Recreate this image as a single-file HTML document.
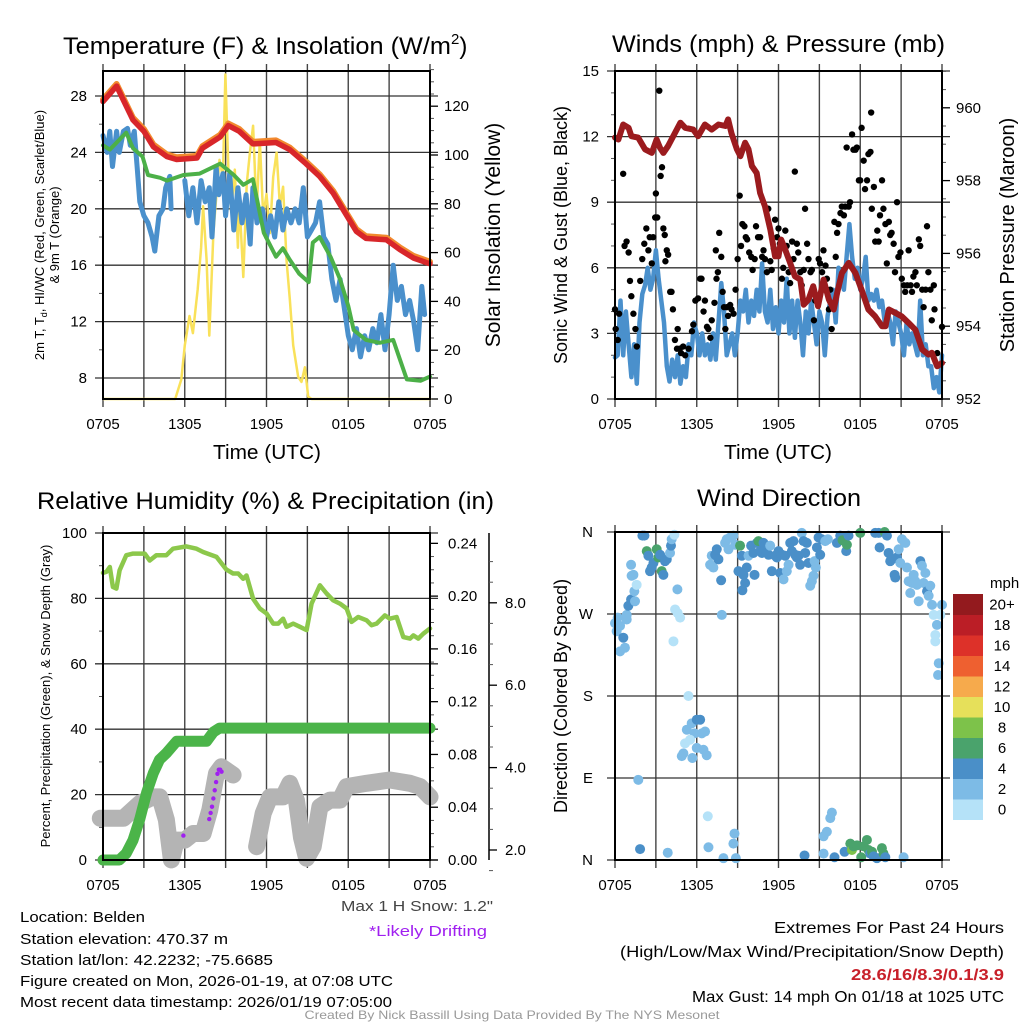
<!DOCTYPE html>
<html><head><meta charset="utf-8">
<style>
html,body{margin:0;padding:0;background:#fff;}
svg{display:block;font-family:"Liberation Sans",sans-serif;}
</style></head>
<body>
<svg id="fig" width="1024" height="1024" viewBox="0 0 1024 1024" xmlns="http://www.w3.org/2000/svg">
<rect width="1024" height="1024" fill="#fff"/>
<g id="layer"></g>
<!-- titles -->
<text x="63" y="54" font-size="24"><tspan textLength="388" lengthAdjust="spacingAndGlyphs">Temperature (F) &amp; Insolation (W/m</tspan><tspan font-size="15" dy="-10">2</tspan><tspan dy="10">)</tspan></text>
<text x="612" y="52" font-size="24" textLength="333" lengthAdjust="spacingAndGlyphs">Winds (mph) &amp; Pressure (mb)</text>
<text x="37" y="509" font-size="24" textLength="457" lengthAdjust="spacingAndGlyphs">Relative Humidity (%) &amp; Precipitation (in)</text>
<text x="697" y="506" font-size="24" textLength="164" lengthAdjust="spacingAndGlyphs">Wind Direction</text>
<!-- axis titles -->
<text x="267" y="459" font-size="20" text-anchor="middle" textLength="108" lengthAdjust="spacingAndGlyphs">Time (UTC)</text>
<text x="778" y="459" font-size="20" text-anchor="middle" textLength="108" lengthAdjust="spacingAndGlyphs">Time (UTC)</text>
<text transform="translate(44,235) rotate(-90)" font-size="13" text-anchor="middle">2m T, T<tspan font-size="9" dy="3">d</tspan><tspan dy="-3">, HI/WC (Red, Green, Scarlet/Blue)</tspan></text>
<text transform="translate(59,235) rotate(-90)" font-size="13" text-anchor="middle">&amp; 9m T (Orange)</text>
<text transform="translate(500,235) rotate(-90)" font-size="21" text-anchor="middle">Solar Insolation (Yellow)</text>
<text transform="translate(567,235) rotate(-90)" font-size="18" text-anchor="middle">Sonic Wind &amp; Gust (Blue, Black)</text>
<text transform="translate(1014,235) rotate(-90)" font-size="20" text-anchor="middle">Station Pressure (Maroon)</text>
<text transform="translate(50,696) rotate(-90)" font-size="13" text-anchor="middle">Percent, Precipitation (Green), &amp; Snow Depth (Gray)</text>
<text transform="translate(567,696) rotate(-90)" font-size="18" text-anchor="middle">Direction (Colored By Speed)</text>
<!-- footer texts -->
<text x="20" y="922" font-size="15" textLength="125" lengthAdjust="spacingAndGlyphs">Location: Belden</text>
<text x="20" y="944" font-size="15" textLength="208" lengthAdjust="spacingAndGlyphs">Station elevation: 470.37 m</text>
<text x="20" y="965" font-size="15" textLength="253" lengthAdjust="spacingAndGlyphs">Station lat/lon: 42.2232; -75.6685</text>
<text x="20" y="986" font-size="15" textLength="373" lengthAdjust="spacingAndGlyphs">Figure created on Mon, 2026-01-19, at 07:08 UTC</text>
<text x="20" y="1007" font-size="15" textLength="372" lengthAdjust="spacingAndGlyphs">Most recent data timestamp: 2026/01/19 07:05:00</text>
<text x="493" y="911" font-size="15" fill="#444" text-anchor="end" textLength="152" lengthAdjust="spacingAndGlyphs">Max 1 H Snow: 1.2"</text>
<text x="428" y="936" font-size="15" fill="#a020f0" text-anchor="middle" textLength="118" lengthAdjust="spacingAndGlyphs">*Likely Drifting</text>
<text x="1004" y="933" font-size="16" text-anchor="end" textLength="230" lengthAdjust="spacingAndGlyphs">Extremes For Past 24 Hours</text>
<text x="1004" y="957" font-size="16" text-anchor="end" textLength="384" lengthAdjust="spacingAndGlyphs">(High/Low/Max Wind/Precipitation/Snow Depth)</text>
<text x="1004" y="980" font-size="16" font-weight="bold" fill="#c8202a" text-anchor="end" textLength="153" lengthAdjust="spacingAndGlyphs">28.6/16/8.3/0.1/3.9</text>
<text x="1004" y="1002" font-size="16" text-anchor="end" textLength="312" lengthAdjust="spacingAndGlyphs">Max Gust: 14 mph On 01/18 at 1025 UTC</text>
<text x="512" y="1019" font-size="12" fill="#999" text-anchor="middle" textLength="415" lengthAdjust="spacingAndGlyphs">Created By Nick Bassill Using Data Provided By The NYS Mesonet</text>
</svg>
<script>
// ===== DATA =====
const timeTickLabels = ["0705","1305","1905","0105","0705"];
const tempTicks = [8,12,16,20,24,28];
const insolTicks = [0,20,40,60,80,100,120];
const windTicks = [0,3,6,9,12,15];
const presTicks = [952,954,956,958,960];
const rhTicks = [0,20,40,60,80,100];
const precipTicks = ["0.00","0.04","0.08","0.12","0.16","0.20","0.24"];
const snowTicks = ["2.0","4.0","6.0","8.0"];
const dirTickLabels = ["N","E","S","W","N"];
const speedLabels = ["0","2","4","6","8","10","12","14","16","18","20+"];
const speedColors = ["#b5e2f8","#7dbbe6","#4a8fc8","#4aa36c","#7dc24a","#e6e05a","#f6aa4c","#ee6030","#dd3129","#bb1e26","#931a1e"];

const tempHours = [0,1,1.5,2.2,3,3.7,4.7,5.4,6.9,7.3,8.6,9.2,10,11,12.7,13.7,14.9,15.9,16.9,17.9,18.6,19.3,20.8,21.8,22.8,24];
const tempValues = [27.6,28.7,27.7,26.3,25.5,24.4,23.7,23.5,23.6,24.3,25.1,25.9,25.5,24.6,24.7,24.2,23.2,22.3,21.1,19.5,18.4,17.9,17.8,17.1,16.5,16.1];
const dewHours = [0,0.5,1.7,2.2,2.9,3.3,4.2,4.7,5.9,7.1,8.6,9.6,10.3,11,11.8,12.7,13.2,13.7,14.4,15.1,15.4,15.9,16.7,17.4,18,18.4,19.3,20.3,21.3,21.8,22.3,23.3,24];
const dewValues = [24.5,24.2,25.4,24.3,23.7,22.4,22.2,22.0,22.4,22.5,23.2,22.4,21.7,22.1,18.3,16.6,17.2,16.4,15.4,14.8,17.6,18.0,16.6,15.0,13.1,11.4,10.7,10.5,10.7,9.3,7.9,7.8,8.1];
const chillHours = [0,0.3,0.5,0.7,1,1.2,1.5,1.8,2,2.3,2.5,2.7,3,3.3,3.6,3.8,4.1,4.4,4.6,4.9,5.0,5.8,6,6.3,6.6,6.9,7.2,7.5,7.8,8,8.3,8.5,8.8,9,9.3,9.6,9.9,10.2,10.5,10.8,11,11.3,11.7,12,12.3,12.6,12.9,13.2,13.5,13.8,14.1,14.4,14.7,15,15.3,15.6,15.9,16.2,16.5,16.8,17.1,17.4,17.7,18,18.3,18.6,18.9,19.2,19.5,19.8,20.1,20.4,20.7,21,21.3,21.6,21.9,22.2,22.5,22.8,23.1,23.4,23.6];
const chillValues = [25.2,24.0,25.5,23.0,25.5,24.0,25.5,25.7,24.5,25.5,23.0,20.5,19.5,19.0,18.0,17.0,19.5,20.0,21.5,22.3,20.0,null,22.0,19.5,21.5,19.0,22.0,20.5,21.5,18.0,23.0,21.0,22.5,19.5,22.5,18.5,21.5,19.0,21.0,17.5,21.5,19.0,20.0,18.0,19.5,18.0,20.5,18.5,20.0,19.0,20.0,19.0,21.5,18.0,18.5,19.0,20.5,18.0,17.5,15.0,13.5,15.0,13.0,11.0,10.0,11.5,9.5,11.0,10.0,11.5,10.5,12.5,10.0,12.5,16.0,13.5,14.5,12.5,13.5,12.0,10.0,14.5,12.5,13.0];
const insolHours = [0,5.3,5.75,6.0,6.35,6.6,6.95,7.2,7.35,7.6,7.8,8.1,8.3,8.55,8.8,8.98,9.2,9.4,9.67,9.9,10.0,10.3,10.55,10.78,11.02,11.27,11.51,11.76,12.0,12.25,12.49,12.74,12.98,13.22,13.47,13.71,13.96,14.33,14.57,14.82,15.06,15.31,24];
const insolValues = [0,0,8,22,34,27,45,62,79,57,26,68,82,98,91,133,95,77,94,62,82,50,88,101,112,76,106,75,84,68,91,101,79,87,57,41,22,9,7,13,1,0,0];

const windHours = [];
const windValues = [1.9,2.0,4.5,2.0,4.0,2.5,1.0,2.5,0.7,3.5,4.8,5.2,6.0,5.0,5.5,6.8,5.5,4.5,3.5,1.5,0.8,1.8,1.0,2.0,0.7,1.5,1.0,2.5,2.0,3.5,3.0,2.0,3.0,2.0,2.5,1.8,3.0,1.8,3.5,5.3,4.0,2.0,2.5,3.0,2.0,3.0,4.5,4.0,5.0,3.5,4.5,3.8,5.0,4.0,6.2,4.0,3.5,5.0,3.2,4.2,3.0,4.5,3.5,5.5,3.0,4.5,2.8,4.5,3.5,2.0,4.0,3.0,4.5,3.5,2.5,4.0,3.5,2.0,3.8,4.5,5.0,3.5,6.0,5.5,5.0,6.5,8.0,6.5,5.5,6.0,5.0,5.5,6.5,4.5,4.8,4.5,5.0,4.2,4.5,3.5,4.0,3.5,2.5,4.0,3.5,3.0,2.0,3.5,2.5,3.0,2.5,2.0,4.5,2.0,2.5,1.5,1.5,0.5,1.0,0.3,2.0];
for (let i = 0; i < windValues.length; i++) windHours.push(i * 0.2);
const gustHours = [0,0.05,0.2,0.3,0.6,0.7,0.85,1.0,1.1,1.2,1.35,1.5,1.6,1.85,2.0,2.15,2.3,2.45,2.55,2.7,2.8,2.95,3.0,3.1,3.25,3.35,3.45,3.55,3.65,3.7,3.8,3.9,4.05,4.15,4.25,4.4,4.55,4.6,4.75,4.85,5.0,5.15,5.4,5.65,5.75,5.9,6.1,6.25,6.35,6.5,6.6,6.75,6.85,7.0,7.1,7.3,7.4,7.45,7.55,7.65,7.8,7.9,8.0,8.1,8.2,8.3,8.45,8.55,8.7,8.85,9.0,9.15,9.25,9.35,9.5,9.6,9.7,9.85,10.0,10.1,10.25,10.35,10.5,10.65,10.8,10.9,11.0,11.15,11.25,11.4,11.5,11.65,11.75,11.9,12.0,12.1,12.25,12.35,12.5,12.6,12.75,12.85,13.0,13.1,13.2,13.35,13.45,13.6,13.7,13.85,13.95,14.1,14.2,14.35,14.45,14.6,14.7,14.95,15.05,15.2,15.3,15.45,15.55,15.7,15.8,15.9,16.1,16.2,16.3,16.4,16.55,16.65,16.8,16.9,17.0,17.15,17.25,17.4,17.5,17.65,17.75,17.9,18.0,18.1,18.25,18.35,18.5,18.6,18.75,18.8,18.85,19.0,19.1,19.25,19.35,19.45,19.6,19.7,19.85,19.95,20.1,20.2,20.3,20.45,20.55,20.7,20.8,20.95,21.05,21.2,21.3,21.45,21.55,21.7,21.8,21.9,22.05,22.15,22.3,22.4,22.55,22.65,22.8,22.9,23.0,23.15,23.25,23.4,23.45,23.65,24.0];
const gustValues = [4.1,3.2,2.7,3.9,10.3,7.0,7.2,6.7,5.4,4.7,3.9,3.2,2.4,5.4,6.4,7.1,7.8,6.8,7.4,6.2,7.4,8.3,9.4,8.3,14.1,10.2,10.6,7.8,7.5,6.3,6.8,6.6,4.9,4.9,4.1,2.7,2.3,3.2,2.3,2.1,2.4,2.0,2.3,3.1,3.4,4.5,4.6,5.5,5.5,4.0,4.5,3.3,3.2,2.8,3.6,4.4,6.8,5.5,5.8,7.6,6.5,4.9,4.2,3.2,4.2,3.8,4.3,4.1,3.9,5.0,6.4,9.3,7.0,8.0,7.9,7.4,7.3,6.7,6.5,5.9,6.4,7.9,7.4,7.4,6.5,6.8,6.4,5.8,8.7,6.3,5.9,6.9,8.2,7.4,7.8,7.1,5.5,6.0,7.7,7.0,5.8,5.3,7.2,6.4,10.4,7.1,6.7,5.8,5.2,5.9,8.7,7.1,6.4,5.8,5.9,3.6,4.5,6.4,6.2,5.8,6.8,6.1,5.5,4.1,5.0,3.2,8.1,6.5,7.6,8.0,8.5,8.8,8.4,8.8,11.5,8.8,9.0,12.1,11.4,11.4,11.5,10.0,10.0,12.4,10.9,9.6,10.0,11.2,11.3,13.1,8.7,9.7,7.2,7.7,7.2,8.4,10.0,8.7,8.0,6.2,8.1,7.5,7.6,7.1,5.8,9.0,6.5,6.7,5.5,5.2,4.9,5.2,6.8,5.2,4.9,5.6,5.8,5.2,7.3,7.0,5.0,4.2,5.0,7.9,5.8,5.0,3.6,5.2,4.1,2.1,3.3];
const presHours = [0,0.25,0.6,1.0,1.2,1.7,2.2,2.7,3.05,3.3,3.55,3.9,4.4,4.8,5.15,5.75,6.1,6.6,7.1,7.6,8.1,8.3,8.55,8.95,9.2,9.55,9.8,10.05,10.4,10.65,11.0,11.4,11.75,12.0,12.2,12.5,12.85,13.2,13.6,13.85,14.2,14.55,14.9,15.3,15.7,16.05,16.3,16.65,17.15,17.65,18.1,18.6,19.1,19.6,19.85,20.1,20.55,21.05,21.55,22.05,22.55,23.0,23.25,23.65,24.0];
const presValues = [959.18,959.13,959.54,959.45,959.22,959.18,958.86,958.76,959.13,958.9,958.76,958.95,959.31,959.59,959.45,959.4,959.22,959.54,959.4,959.54,959.5,959.68,959.3,958.86,958.67,959.04,958.86,958.4,958.21,957.66,957.3,956.66,955.92,955.92,956.38,956.1,955.74,955.37,955.28,954.59,954.73,955.1,954.55,955.28,954.73,954.46,954.91,955.46,955.74,955.46,955.0,954.46,954.27,954.0,954.0,954.46,954.37,954.27,954.09,953.9,953.36,953.22,953.27,952.9,952.99];

const rhHours = [0,0.25,0.5,0.73,0.98,1.22,1.71,2.2,2.69,3.06,3.43,3.92,4.65,5.14,6.12,6.86,7.35,8.33,9.06,9.55,9.92,10.29,10.53,11.02,11.51,12.0,12.49,12.86,13.22,13.47,13.96,14.45,14.94,15.31,15.92,16.41,16.9,17.39,17.88,18.24,18.73,19.35,19.71,20.08,20.69,21.06,21.55,22.04,22.53,22.78,23.14,23.51,24.0];
const rhValues = [87.8,88.1,89.6,83.5,83.0,88.6,93.2,93.7,93.7,93.7,91.6,93.2,93.2,95.2,95.9,95.2,94.2,92.7,88.8,87.6,87.6,86.0,87.0,79.9,76.9,75.4,72.3,72.3,73.8,71.3,72.3,71.3,70.3,78.4,84.0,81.5,79.4,78.4,76.9,72.8,74.3,73.3,71.8,72.3,74.8,73.8,74.3,68.2,67.7,68.7,67.7,69.2,70.8];
const precipHours = [0,1.2,1.7,2.2,2.7,3.2,3.7,4.15,4.65,5.4,7.6,8.1,8.55,24];
const precipValues = [0,0,0.005,0.015,0.031,0.051,0.066,0.076,0.081,0.090,0.090,0.097,0.100,0.100];
const snowHours = [-0.2,1.5,2.7,3.67,4.16,4.65,5.02,5.39,6.0,6.61,7.35,7.84,8.33,8.69,9.55,null,11.27,11.76,12.25,13.22,13.71,14.2,14.57,14.94,15.43,15.92,16.65,17.39,17.88,19.35,21.06,22.53,23.27,24.0];
const snowValues = [2.77,2.77,3.13,3.29,3.29,2.73,1.76,2.24,2.24,2.4,2.4,2.97,3.86,4.02,3.82,null,2.08,2.89,3.29,3.29,3.62,3.2,2.3,1.8,2.08,3.05,3.21,3.21,3.54,3.62,3.7,3.62,3.54,3.29];
const driftHours = [5.9,7.8,7.9,8.0,8.1,8.2,8.3,8.4,8.5,8.6,8.7];
const driftValues = [2.35,2.75,2.9,3.05,3.25,3.45,3.65,3.85,3.95,3.95,3.9];

const dirHours = [0,0.12,0.2,0.37,0.61,0.37,0.73,0.86,0.86,0.98,1.18,1.47,1.42,1.59,1.22,1.35,1.18,1.71,1.84,2.01,2.16,2.33,2.45,2.57,2.69,2.82,3.06,3.18,3.31,3.43,3.55,3.67,3.8,3.87,4.04,4.11,4.16,4.36,4.29,4.41,4.6,4.78,4.58,5.39,5.27,5.63,6.0,6.25,5.83,6.37,6.61,5.14,5.51,5.02,4.9,5.68,6.0,6.49,6.73,6.81,6.86,6.98,7.22,7.1,7.35,7.47,7.59,7.79,7.84,7.96,8.08,8.2,8.33,8.45,8.69,8.82,8.77,8.69,8.87,9.18,9.06,9.31,9.43,9.55,9.67,9.35,9.8,9.99,10.16,10.24,10.41,10.53,10.65,10.78,10.9,11.02,11.14,11.27,11.39,11.51,11.76,11.88,12.0,12.12,12.25,12.37,12.49,12.61,12.74,12.86,12.98,13.1,13.22,13.35,13.47,13.59,13.71,13.91,13.84,13.96,14.08,14.2,14.33,14.45,14.57,14.65,14.74,14.82,14.94,15.06,15.18,15.31,15.31,15.43,15.55,15.62,15.8,15.92,16.11,16.29,16.53,16.7,16.85,16.97,17.02,17.14,17.27,17.39,17.51,17.76,18.0,18.07,18.25,18.49,18.61,18.73,18.86,18.98,19.1,19.22,19.35,19.42,19.59,19.71,19.79,19.96,19.84,20.08,20.2,20.33,20.52,20.57,20.69,20.82,20.94,21.06,21.18,21.31,21.43,21.55,21.67,21.8,21.92,22.04,22.16,22.29,22.41,22.53,22.65,22.78,22.9,23.02,23.14,23.27,23.39,23.51,23.63,23.51,23.76,23.71,24.0,23.88];
const dirDegrees = [260,251,266,257,244,229,233,264,269,279,286,284,295,302,312,313,324,88,12,356,356,339,334,317,321,326,341,332,335,317,313,328,330,8,337,345,352,357,240,275,271,266,297,180,143,150,154,154,139,139,141,128,132,117,114,112,123,121,115,48,14,324,321,334,335,341,330,307,269,2,348,352,341,354,356,346,29,18,2,345,317,334,313,304,321,296,334,345,337,313,348,350,339,337,348,345,337,335,345,317,334,332,339,315,335,308,334,317,324,348,339,350,335,332,334,324,359,5,350,337,348,326,301,306,312,328,321,343,354,335,352,26,7,350,31,352,46,52,3,348,356,351,9,339,346,356,18,11,15,16,359,3,15,22,11,7,9,4,359,2,359,343,13,7,360,356,3,337,328,330,313,310,332,341,326,352,3,348,321,306,293,304,313,306,302,284,328,323,304,315,295,290,301,280,269,247,258,240,216,203,280,269];
const dirSpeeds = [2,2,2,2,4,2,2,2,2,4,4,2,2,0,2,2,2,2,4,4,4,6,4,4,4,4,6,6,4,6,4,4,4,2,2,4,2,0,0,0,0,0,2,0,2,2,4,4,2,2,2,0,0,2,2,2,2,2,2,0,2,2,2,2,4,4,4,4,2,2,2,2,2,2,2,2,2,2,2,6,4,4,4,4,4,4,2,4,4,4,4,6,4,4,4,4,4,4,2,4,4,4,4,4,4,2,4,2,2,4,4,4,4,4,4,4,2,4,4,4,4,4,2,2,2,2,2,4,4,4,4,2,2,2,2,2,2,2,4,4,4,6,4,4,6,4,6,8,6,6,6,6,6,6,6,4,6,4,4,4,4,4,6,6,6,4,4,4,4,4,4,4,4,2,2,2,2,2,2,2,2,2,2,2,2,2,4,2,2,2,4,2,2,2,0,0,2,0,2,2,2,0];

// ===== DRAWING =====
const NS = "http://www.w3.org/2000/svg";
const layer = document.getElementById("layer");
function mk(tag, attrs, parent) {
  const e = document.createElementNS(NS, tag);
  for (const k in attrs) e.setAttribute(k, attrs[k]);
  (parent || layer).appendChild(e);
  return e;
}
const P = {
  tl: {x0:103, x1:430, y0:71, y1:399},
  tr: {x0:615, x1:942, y0:71, y1:399},
  bl: {x0:103, x1:430, y0:533, y1:860},
  br: {x0:615, x1:942, y0:532, y1:860}
};
function xScale(p) { return h => p.x0 + h * (p.x1 - p.x0) / 24; }
function linScale(p, lo, hi) { return v => p.y1 - (v - lo) * (p.y1 - p.y0) / (hi - lo); }

const tempY = v => 378 - (v - 8) * 14.1;
const insolY = v => 399 - v * 2.44;
const windY = linScale(P.tr, 0, 15);
const presY = v => 399 - (v - 952) * 36.4;
const rhY = linScale(P.bl, 0, 100);
const precipY = v => 860 - v * 1319.4;
const snowY = v => 850 - (v - 2) * 41.2;
const dirY = linScale(P.br, 0, 360);

function drawFrame(p, name, hGrid) {
  const g = mk("g", {});
  
  
  for (let i = 0; i <= 8; i++) {
    const x = p.x0 + i * (p.x1 - p.x0) / 8;
    mk("line", {x1:x, x2:x, y1:p.y0 - 7, y2:p.y1 + 8, stroke:"#444", "stroke-width":1.4}, g);
  }
  hGrid.forEach(y => mk("line", {x1:p.x0 - 8, x2:p.x1 + 8, y1:y, y2:y, stroke:"#333", "stroke-width":1.3}, g));
  const xs = xScale(p);
  timeTickLabels.forEach((lab, i) => {
    const t = mk("text", {x: xs(i * 6), y: p.y1 + 30, "font-size": 15, "text-anchor": "middle"});
    
    
    t.textContent = lab;
  });
}
function drawBorder(p, name) {
  const r = mk("rect", {x:p.x0, y:p.y0, width:p.x1 - p.x0, height:p.y1 - p.y0, fill:"none", stroke:"#000", "stroke-width":2});
  
  
}
function leftTicks(p, name, vals, yf, labels, minorVals) {
  vals.forEach((v, i) => {
    const t = mk("text", {x: p.x0 - 16, y: yf(v) + 5, "font-size": 15, "text-anchor": "end"});
    
    
    t.textContent = labels ? labels[i] : v;
  });
  (minorVals || []).forEach(v => mk("line", {x1:p.x0 - 4, x2:p.x0, y1:yf(v), y2:yf(v), stroke:"#555", "stroke-width":1}));
}
function rightTicks(x, name, vals, yf, labels, minorVals, lx) {
  vals.forEach((v, i) => {
    mk("line", {x1:x, x2:x + 8, y1:yf(v), y2:yf(v), stroke:"#000", "stroke-width":1.3});
    const t = mk("text", {x: lx, y: yf(v) + 5, "font-size": 15});
    
    
    t.textContent = labels ? labels[i] : v;
  });
  (minorVals || []).forEach(v => mk("line", {x1:x, x2:x + 4, y1:yf(v), y2:yf(v), stroke:"#555", "stroke-width":1}));
}
function pathFrom(hours, vals, xf, yf) {
  let d = "", pen = false;
  for (let i = 0; i < hours.length; i++) {
    if (hours[i] === null || vals[i] === null) { pen = false; continue; }
    d += (pen ? "L" : "M") + xf(hours[i]).toFixed(1) + "," + yf(vals[i]).toFixed(1);
    pen = true;
  }
  return d;
}
function series(name, hours, vals, xf, yf, color, w, clip) {
  const e = mk("path", {d: pathFrom(hours, vals, xf, yf), fill:"none", stroke:color, "stroke-width":w, "stroke-linejoin":"round", "stroke-linecap":"round"});
  if (clip) e.setAttribute("clip-path", clip);
  
  
  return e;
}
const defs = mk("defs", {});
["tl","tr","bl","br"].forEach(k => {
  const p = P[k];
  const c = mk("clipPath", {id: "clip-" + k}, defs);
  mk("rect", {x:p.x0, y:p.y0 - 6, width:p.x1 - p.x0 + 6, height:p.y1 - p.y0 + 10}, c);
});

// ---- Panel 1: temperature ----
(function() {
  const p = P.tl, xf = xScale(p);
  drawFrame(p, "temp", tempTicks.map(tempY));
  leftTicks(p, "temp", tempTicks, tempY, null, [10,14,18,22,26]);
  mk("line", {x1:p.x1, x2:p.x1, y1:p.y0, y2:p.y1, stroke:"#000", "stroke-width":2});
  const minors = []; for (let v = 5; v <= 135; v += 5) if (v % 20) minors.push(v);
  rightTicks(p.x1, "insolation", insolTicks, insolY, null, minors, p.x1 + 14);
  series("insolation-line", insolHours, insolValues, xf, insolY, "#f9e15a", 2.5, "url(#clip-tl)");
  series("heat-index-line", chillHours, chillValues, xf, tempY, "#4a90cc", 5);
  series("dewpoint-line", dewHours, dewValues, xf, tempY, "#4cb048", 4);
  series("temp-9m-line", tempHours, tempValues.map(v => v + 0.15), xf, tempY, "#f28a2e", 6);
  series("temp-2m-line", tempHours, tempValues, xf, tempY, "#d8262a", 5.5);
  drawBorder(p, "temp");
})();

// ---- Panel 2: winds ----
(function() {
  const p = P.tr, xf = xScale(p);
  drawFrame(p, "wind", windTicks.map(windY));
  const lm = []; for (let v = 1; v < 15; v++) if (v % 3) lm.push(v);
  leftTicks(p, "wind", windTicks, windY, null, lm);
  const rm = []; for (let v = 952.5; v <= 961; v += 0.5) if (v % 2) rm.push(v);
  rightTicks(p.x1, "pressure", presTicks, presY, null, rm, p.x1 + 14);
  series("sonic-wind-line", windHours, windValues, xf, windY, "#4a90cc", 4.5);
  gustHours.forEach((h, i) => {
    const c = mk("circle", {cx: xf(h), cy: windY(gustValues[i]), r: 3.2, fill: "#000"});
    
    
  });
  series("pressure-line", presHours, presValues, xf, presY, "#9b1b1e", 6);
  drawBorder(p, "wind");
})();

// ---- Panel 3: humidity ----
(function() {
  const p = P.bl, xf = xScale(p);
  drawFrame(p, "humidity", rhTicks.map(rhY));
  leftTicks(p, "humidity", rhTicks, rhY, null, [10,30,50,70,90]);
  mk("line", {x1:p.x1, x2:p.x1, y1:p.y0, y2:p.y1, stroke:"#000", "stroke-width":2});
  const pm = []; for (let v = 0.01; v < 0.25; v += 0.01) if (Math.round(v * 100) % 4) pm.push(v);
  rightTicks(p.x1, "precip", precipTicks.map(Number), precipY, precipTicks, pm, p.x1 + 18);
  mk("line", {x1:489, x2:489, y1:533, y2:860, stroke:"#000", "stroke-width":1.5});
  const sm = []; for (let v = 1.5; v <= 9; v += 0.5) if (v % 2) sm.push(v);
  rightTicks(489, "snow", snowTicks.map(Number), snowY, snowTicks, sm.filter(v => snowY(v) > 533), 505);
  series("snow-depth-line", snowHours, snowValues, xf, snowY, "#b4b4b4", 17);
  series("precip-line", precipHours, precipValues, xf, precipY, "#4bb449", 11);
  driftHours.forEach((h, i) => {
    const c = mk("circle", {cx: xf(h), cy: snowY(driftValues[i]), r: 2.2, fill: "#a020f0"});
    
    
  });
  series("humidity-line", rhHours, rhValues, xf, rhY, "#8cc84b", 4.5);
  drawBorder(p, "humidity");
})();

// ---- Panel 4: wind direction ----
(function() {
  const p = P.br, xf = xScale(p);
  drawFrame(p, "direction", [0,90,180,270,360].map(dirY));
  dirTickLabels.forEach((lab, i) => {
    const t = mk("text", {x: p.x0 - 22, y: dirY(i * 90) + 5, "font-size": 15, "text-anchor": "end"});
    
    
    t.textContent = lab;
  });
  dirHours.forEach((h, i) => {
    const c = mk("circle", {cx: xf(h), cy: dirY(dirDegrees[i]), r: 5, fill: speedColors[Math.min(10, Math.floor(dirSpeeds[i] / 2))]});
    
    
  });
  drawBorder(p, "direction");
  const bx = 953, by = 594, bw = 30, bh = 20.5;
  const u = mk("text", {x: 990, y: 588, "font-size": 15});
  
  
  u.textContent = "mph";
  for (let i = 0; i < speedColors.length; i++) {
    const y = by + (10 - i) * bh;
    const r = mk("rect", {x: bx, y: y, width: bw, height: bh + 0.5, fill: speedColors[i]});
    
    
    const t = mk("text", {x: 1002, y: y + bh / 2 + 5, "font-size": 15, "text-anchor": "middle"});
    
    
    t.textContent = speedLabels[i];
  }
})();
</script>
</body></html>
